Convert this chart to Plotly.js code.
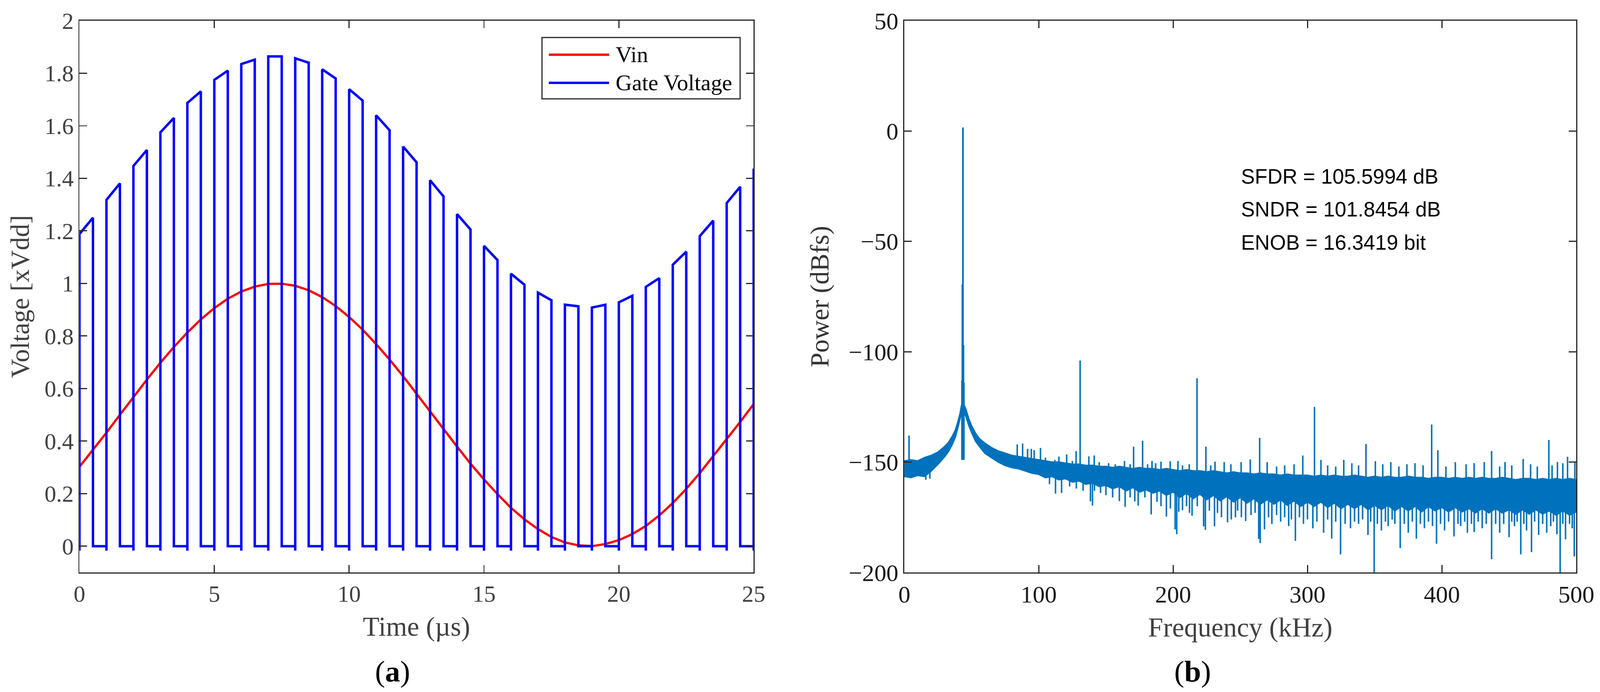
<!DOCTYPE html>
<html>
<head>
<meta charset="utf-8">
<script src="https://cdn.plot.ly/plotly-3.0.1.min.js"></script>
<style>
  html, body { margin: 0; padding: 0; background: #fff; overflow: hidden; }
  #myDiv { width: 100vw; height: 100vh; }
</style>
</head>
<body>
<div id="myDiv"></div>
<script>
// ---- panel (a): time domain ----
const vinTime = [0, 0.5, 1, 1.5, 2, 2.5, 3, 3.5, 4, 4.5, 5, 5.5, 6, 6.5, 7, 7.5, 8, 8.5, 9, 9.5,
  10, 10.5, 11, 11.5, 12, 12.5, 13, 13.5, 14, 14.5, 15, 15.5, 16, 16.5, 17, 17.5, 18, 18.5, 19, 19.5,
  20, 20.5, 21, 21.5, 22, 22.5, 23, 23.5, 24, 24.5, 25];
const vinValue = [0.302, 0.366, 0.432, 0.5, 0.568, 0.634, 0.698, 0.758, 0.813, 0.863, 0.906, 0.942,
  0.969, 0.988, 0.998, 0.999, 0.991, 0.974, 0.948, 0.914, 0.872, 0.824, 0.769, 0.71, 0.647, 0.581,
  0.514, 0.446, 0.379, 0.314, 0.254, 0.198, 0.146, 0.102, 0.065, 0.035, 0.014, 0.003, 0.0, 0.008,
  0.023, 0.046, 0.077, 0.117, 0.164, 0.218, 0.278, 0.342, 0.407, 0.473, 0.541];

// gate pulses: high from pulseOn to pulseOff, 0 otherwise
const pulseOn = [0, 1, 2, 3, 4, 5, 6, 7, 8, 9, 10, 11, 12, 13, 14, 15, 16, 17, 18, 19, 20, 21, 22, 23, 24, 25];
const pulseOff = [0.5, 1.5, 2.5, 3.5, 4.5, 5.5, 6.5, 7.5, 8.5, 9.5, 10.5, 11.5, 12.5, 13.5, 14.5, 15.5,
  16.5, 17.5, 18.5, 19.5, 20.5, 21.5, 22.5, 23.5, 24.5, null];
const gateStart = [1.188, 1.318, 1.447, 1.575, 1.687, 1.775, 1.835, 1.864, 1.857, 1.815, 1.739, 1.64,
  1.521, 1.393, 1.264, 1.143, 1.037, 0.965, 0.919, 0.908, 0.928, 0.987, 1.071, 1.18, 1.306, 1.437];
const gateEnd = [1.25, 1.381, 1.508, 1.63, 1.731, 1.81, 1.852, 1.864, 1.84, 1.78, 1.696, 1.583,
  1.461, 1.331, 1.205, 1.089, 0.995, 0.936, 0.913, 0.919, 0.953, 1.02, 1.121, 1.239, 1.368, null];
const gateLow = 0;
const gateDip = -0.017;

// ---- panel (b): spectrum ----
const bandFreq = [0, 5, 10, 15, 20, 25, 30, 33, 36, 38, 40, 41.5, 42.5, 43.6, 44.7, 46, 48, 50, 53, 56,
  60, 65, 70, 75, 80, 85, 90, 95, 100, 105, 110, 115, 120, 125, 130, 135, 140, 145, 150, 155, 160,
  165, 170, 175, 180, 185, 190, 195, 200, 205, 210, 215, 220, 225, 230, 235, 240, 245, 250, 255,
  260, 265, 270, 275, 280, 285, 290, 295, 300, 305, 310, 315, 320, 325, 330, 335, 340, 345, 350,
  355, 360, 365, 370, 375, 380, 385, 390, 395, 400, 405, 410, 415, 420, 425, 430, 435, 440, 445,
  450, 455, 460, 465, 470, 475, 480, 485, 490, 495, 500];
const bandTop = [-149.5, -149, -149.5, -148, -147, -145.5, -143, -141, -138, -135.5, -131.5, -128,
  -124.5, -123.5, -124.5, -126.5, -130.5, -133.5, -137, -139.5,
  -141.5, -143.5, -145, -146, -147, -147.5, -148, -148.5, -149, -149.5, -150, -150, -150.5, -151,
  -151, -151.5, -151.5, -152, -152, -152.5, -152, -152.5, -153, -152.5, -153, -153, -153.5, -153,
  -153.5, -154, -153.5, -154, -154, -154.5, -154, -154.5, -155, -154.5, -155, -155, -155.5, -155,
  -155.5, -155.5, -156, -155.5, -156, -156, -156, -156.5, -156, -156.5, -156, -156.5, -156.5, -156,
  -156.5, -157, -156.5, -157, -156.5, -157, -157, -156.5, -157, -157, -157.5, -157, -157, -157.5,
  -157, -157.5, -157, -157.5, -157, -157.5, -157.5, -157, -157.5, -158, -157.5, -157.5, -158,
  -157.5, -158, -157.5, -158, -157.5, -158];
const bandBottom = [-156.5, -157, -156, -156.5, -154, -151, -147.5, -145, -141.5, -138.5, -134, -130.5,
  -127.5, -126.5, -127.5, -129.5, -133.5, -136.5, -140.5, -143,
  -146, -148, -150, -151.5, -152.5, -153, -154, -155, -155.5, -157, -156.5, -158, -157.5, -159,
  -158.5, -160, -159.5, -161, -160.5, -162, -161, -163, -161.5, -163.5, -162.5, -164, -163, -165,
  -163.5, -166, -164, -166.5, -164.5, -167, -165, -167.5, -165.5, -168, -166, -168.5, -166.5, -169,
  -167, -169, -167, -169.5, -167.5, -170, -168, -170, -168, -170.5, -168.5, -171, -169, -171, -169,
  -171.5, -169.5, -171.5, -169.5, -172, -170, -172, -170, -172.5, -170, -172, -170.5, -172.5,
  -170.5, -172.5, -171, -173, -171, -173, -171, -173, -171.5, -173.5, -171.5, -173.5, -171.5,
  -173.5, -172, -174, -172, -174, -172.5];

const toneFreq = [42.9, 43.2, 43.6, 44.0, 44.3];
const toneLevel = [-113, -69.5, 1.6, -97, -114];
const toneFloor = -149;

const spurFreq = [3.5, 84, 88, 91.7, 94.5, 96.6, 101.3, 105, 112, 115, 120.8, 125, 127.8, 130.8, 137.3,
  141.3, 145, 152, 157, 163.8, 168, 170.6, 177.3, 181, 184.3, 187, 191, 197.8, 203.6, 207, 212,
  217.8, 224.4, 228, 231.2, 238, 243, 250.6, 257.4, 264.4, 270, 277, 283, 290, 296.5, 305.2, 310,
  315, 321, 327, 333, 338, 343.5, 350.5, 356, 362, 368, 374, 380, 386, 392.4, 397, 403, 410, 418,
  424, 431.5, 437, 443, 447, 452, 460.5, 466, 471, 479.6, 482, 486, 490, 493.5, 499];
const spurLevel = [-138, -142, -141.6, -144, -144, -144.6, -143.6, -148, -149, -147.5, -146.5, -149.5,
  -145, -104, -147.4, -147, -150, -150.5, -151, -149.5, -151, -143, -140.3, -151, -149.5, -150.5,
  -149.8, -149.6, -149.5, -151.5, -151, -112, -143, -151.5, -149.8, -150, -151, -150, -148.8, -139,
  -150, -152, -151.5, -151, -147, -125, -149, -151.5, -152, -149, -150.5, -151.5, -141.8, -149.6,
  -151, -150, -152, -151, -150.5, -151.5, -133, -144.6, -152, -150, -151, -150.5, -150, -145, -152,
  -150, -151.5, -148.6, -151, -152, -140, -151.5, -150, -150.5, -147.6, -150];

const dipFreq = [16, 19, 108, 112.5, 117, 123, 128, 133, 138.5, 140, 141.5, 146, 150, 155, 160, 164.3,
  168, 171.5, 174, 179, 183.7, 188, 191, 195, 198, 201.5, 202.7, 204.2, 207, 210, 212.2, 214.1, 218,
  222.7, 224, 227, 230.8, 233, 236, 240.5, 243.3, 246.4, 248, 250.8, 254, 258, 261, 263.7, 264.8,
  268, 271, 273.5, 277, 280, 283, 286, 288, 291, 294, 297, 300, 304, 307, 312, 315, 318, 321,
  324.6, 328, 332, 335, 338, 341, 345, 347, 349.6, 352, 355, 358, 360, 363, 365, 369, 372, 375,
  378, 381, 384, 387, 390, 393, 396, 399, 402, 405, 409, 412, 414, 417, 419, 422, 424, 427, 430,
  433, 437, 440, 443, 446, 450, 452, 454, 456, 458.7, 461, 463, 466.7, 469, 472, 475, 478, 481,
  483, 485.6, 488, 490, 492, 495, 497, 498.5];
const dipLevel = [-158, -157.5, -160, -164.3, -164, -161, -162, -163, -167.8, -169.7, -163, -164,
  -165, -166, -167.7, -170.3, -166, -167.8, -169.7, -166, -173.7, -168, -170, -174.7, -171, -180.5,
  -182.7, -172.5, -171.8, -170, -173, -174.3, -170, -179.1, -180.7, -172, -179.1, -173, -175,
  -177.3, -176, -175, -172, -175, -176.7, -174, -173, -184.8, -186.7, -180.5, -175, -178, -174,
  -177, -175, -179, -176, -185.7, -175, -178, -176, -180, -177, -182, -176, -184.7, -177, -191.8,
  -178, -180, -177, -178, -176, -183, -177, -200, -178, -181, -177, -179, -176, -178, -189, -178,
  -182, -177, -184.7, -178, -180, -177, -179, -187, -178, -181, -177, -183.7, -178, -179, -177,
  -182, -178, -181.7, -177, -180, -178, -194, -178, -182, -178, -184, -177, -179, -177, -191.8,
  -178, -181, -190.8, -177, -183, -178, -182, -179, -177, -182.7, -200, -178, -185, -178, -180,
  -192.8];

const statsText = ["SFDR = 105.5994 dB", "SNDR = 101.8454 dB", "ENOB = 16.3419 bit"];
const statsLevel = [-20.5, -35.5, -50.5];

// ---- build traces ----
function gate_trace() {
  let x = [];
  let y = [];
  for (let k = 0; k < pulseOn.length; k++) {
    x.push(pulseOn[k], pulseOn[k], pulseOn[k]);
    y.push(gateLow, gateDip, gateStart[k]);
    if (pulseOff[k] !== null) {
      x.push(pulseOff[k], pulseOff[k]);
      y.push(gateEnd[k], gateLow);
    }
  }
  return [x, y];
}

function nearest_band_mid(f) {
  let best = 0;
  for (let i = 1; i < bandFreq.length; i++) {
    if (Math.abs(bandFreq[i] - f) < Math.abs(bandFreq[best] - f)) best = i;
  }
  return (bandTop[best] + bandBottom[best]) / 2;
}

function spike_trace(freqs, levels, base) {
  let x = [];
  let y = [];
  for (let i = 0; i < freqs.length; i++) {
    const b = base === undefined ? nearest_band_mid(freqs[i]) : base;
    x.push(freqs[i], freqs[i], null);
    y.push(b, levels[i], null);
  }
  return { x: x, y: y };
}

// the figure was laid out on a 4248 x 1771 canvas; scale to the real viewport
const REF_W = 4248;
const REF_H = 1771;
const W = window.innerWidth || REF_W;
const H = window.innerHeight || REF_H;
const s = Math.min(W / REF_W, H / REF_H);
const px = (v) => v / REF_W;
const py = (v) => 1 - v / REF_H;

const blue = "#0072BD";
const [gx, gy] = gate_trace();

const spurs = spike_trace(spurFreq, spurLevel);
const dips = spike_trace(dipFreq, dipLevel);
const tone = spike_trace(toneFreq, toneLevel, toneFloor);

const data = [
  {
    x: vinTime, y: vinValue, type: "scatter", mode: "lines", name: "Vin",
    line: { color: "#FF0000", width: 6 * s }, xaxis: "x", yaxis: "y",
  },
  {
    x: gx, y: gy, type: "scatter", mode: "lines", name: "Gate Voltage",
    line: { color: "#0000FF", width: 6.5 * s }, xaxis: "x", yaxis: "y",
  },
  {
    x: bandFreq, y: bandBottom, type: "scatter", mode: "lines",
    line: { color: blue, width: 4 * s }, xaxis: "x2", yaxis: "y2",
  },
  {
    x: bandFreq, y: bandTop, type: "scatter", mode: "lines", fill: "tonexty",
    fillcolor: blue, line: { color: blue, width: 4 * s }, xaxis: "x2", yaxis: "y2",
  },
  {
    x: dips.x, y: dips.y, type: "scatter", mode: "lines", connectgaps: false,
    line: { color: blue, width: 4 * s }, xaxis: "x2", yaxis: "y2",
  },
  {
    x: spurs.x, y: spurs.y, type: "scatter", mode: "lines", connectgaps: false,
    line: { color: blue, width: 4 * s }, xaxis: "x2", yaxis: "y2",
  },
  {
    x: tone.x, y: tone.y, type: "scatter", mode: "lines", connectgaps: false,
    line: { color: blue, width: 4.5 * s }, xaxis: "x2", yaxis: "y2",
  },
];

// ---- layout ----
const serif = "Liberation Serif, Times New Roman, serif";
const sans = "Liberation Sans, Arial, sans-serif";
const axisColor = "#262626";

function base_axis(extra) {
  return Object.assign(
    {
      ticks: "inside",
      ticklen: 20 * s,
      tickwidth: 3 * s,
      tickcolor: axisColor,
      showline: true,
      linewidth: 3 * s,
      linecolor: axisColor,
      mirror: "ticks",
      showgrid: false,
      zeroline: false,
    },
    extra
  );
}

const legendRows = [140, 212];
const legendNames = ["Vin", "Gate Voltage"];
const legendColors = ["#FF0000", "#0000FF"];

let shapes = [
  {
    type: "rect", xref: "paper", yref: "paper",
    x0: px(1439), x1: px(1965), y0: py(253), y1: py(96),
    line: { color: axisColor, width: 3 * s }, fillcolor: "#ffffff", layer: "above",
  },
];
let annotations = [];
for (let i = 0; i < legendNames.length; i++) {
  shapes.push({
    type: "line", xref: "paper", yref: "paper",
    x0: px(1457), x1: px(1617), y0: py(legendRows[i]), y1: py(legendRows[i]),
    line: { color: legendColors[i], width: 6 * s }, layer: "above",
  });
  annotations.push({
    xref: "paper", yref: "paper", x: px(1632), y: py(legendRows[i]),
    xanchor: "left", yanchor: "middle", showarrow: false, text: legendNames[i],
    font: { family: serif, size: 60 * s, color: "#000000" },
  });
}

for (let i = 0; i < statsText.length; i++) {
  annotations.push({
    xref: "x2", yref: "y2", x: 250, y: statsLevel[i], xanchor: "left", yanchor: "middle",
    showarrow: false, text: statsText[i], font: { family: sans, size: 55 * s, color: "#000000" },
  });
}

annotations.push(
  {
    xref: "paper", yref: "paper", x: px(1042), y: py(1718), xanchor: "center", yanchor: "middle",
    showarrow: false, text: "(<b>a</b>)", font: { family: serif, size: 80 * s, color: "#000000" },
  },
  {
    xref: "paper", yref: "paper", x: px(3166), y: py(1718), xanchor: "center", yanchor: "middle",
    showarrow: false, text: "(<b>b</b>)", font: { family: serif, size: 80 * s, color: "#000000" },
  }
);

const yDomain = [py(1465), py(53)];

const layout = {
  width: W,
  height: H,
  margin: { l: 0, r: 0, t: 0, b: 0, pad: 0 },
  paper_bgcolor: "#ffffff",
  plot_bgcolor: "#ffffff",
  showlegend: false,
  xaxis: base_axis({
    domain: [px(211), px(2001)], anchor: "y", range: [0, 25], dtick: 5, tick0: 0,
    tickfont: { family: serif, size: 62 * s, color: "#404040" },
    title: { text: "Time (µs)", font: { family: serif, size: 72 * s, color: "#404040" }, standoff: 28 * s },
  }),
  yaxis: base_axis({
    domain: yDomain, anchor: "x", range: [-0.1, 2], dtick: 0.2, tick0: 0,
    tickfont: { family: serif, size: 62 * s, color: "#404040" },
    title: { text: "Voltage [xVdd]", font: { family: serif, size: 70 * s, color: "#404040" }, standoff: 18 * s },
  }),
  xaxis2: base_axis({
    domain: [px(2401), px(4185)], anchor: "y2", range: [0, 500], dtick: 100, tick0: 0,
    tickfont: { family: serif, size: 64 * s, color: "#1a1a1a" },
    title: { text: "Frequency (kHz)", font: { family: serif, size: 72 * s, color: "#404040" }, standoff: 28 * s },
  }),
  yaxis2: base_axis({
    domain: yDomain, anchor: "x2", range: [-200, 50], dtick: 50, tick0: 0,
    tickfont: { family: serif, size: 64 * s, color: "#1a1a1a" },
    title: { text: "Power (dBfs)", font: { family: serif, size: 70 * s, color: "#333333" }, standoff: 30 * s },
  }),
  shapes: shapes,
  annotations: annotations,
};

const config = { staticPlot: true, displayModeBar: false };
Plotly.newPlot("myDiv", data, layout, config);
</script>
</body>
</html>
